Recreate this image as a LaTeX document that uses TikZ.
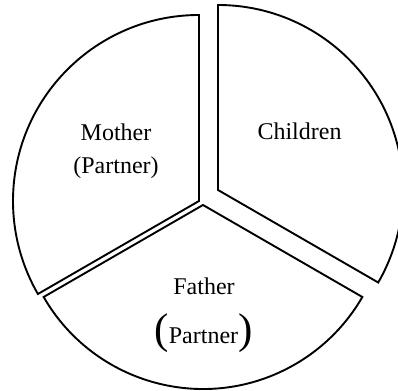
\documentclass[tikz,border=0pt]{standalone}
\usepackage{fontspec}
\setmainfont{Liberation Serif}
\begin{document}
\begin{tikzpicture}[x=1pt,y=1pt,
  sector/.style={draw=black,line width=1.9pt,line join=miter},
  lbl/.style={anchor=base,inner sep=0pt,font=\fontsize{24}{28}\selectfont}]
\useasboundingbox (0,0) rectangle (398,390);
% Mother sector
\coordinate (mA) at (199,189);
\draw[sector] (mA) -- ++(90:186) arc[start angle=90,end angle=210,radius=186] -- cycle;
% Children sector
\coordinate (cA) at (218,200);
\draw[sector] (cA) -- ++(90:185) arc[start angle=90,end angle=-30,radius=185] -- cycle;
% Father sector
\coordinate (fA) at (203,185);
\draw[sector] (fA) -- ++(210:184) arc[start angle=210,end angle=330,radius=184] -- cycle;
% labels
\node[lbl] (m1) at (116,249) {Mother};
\node[lbl] (m2) at (116,216) {(Partner)};
\node[lbl] (c1) at (299.5,250) {Children};
\node[lbl] (f1) at (204,95) {Father};
\node[lbl] (f2) at (203.5,46) {{\fontsize{43}{43}\selectfont(}Partner{\fontsize{43}{43}\selectfont)}};
\end{tikzpicture}
\end{document}
